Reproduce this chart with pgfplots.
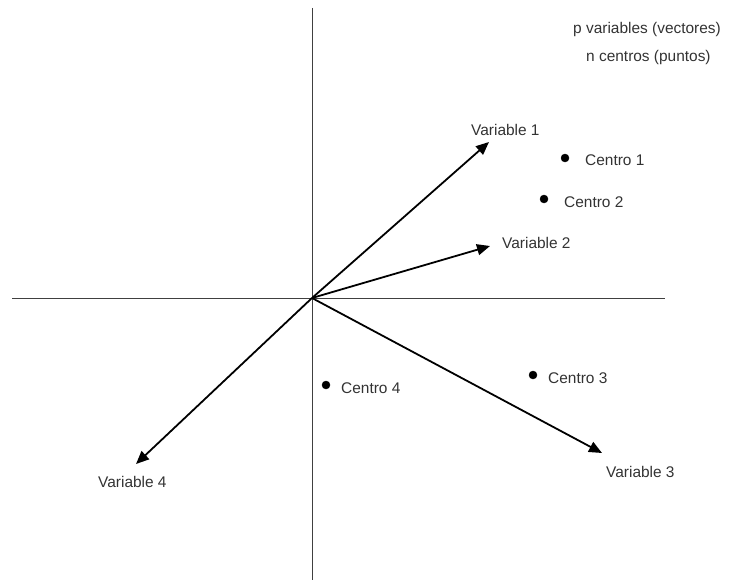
\documentclass[border=0pt]{standalone}
\usepackage{pgfplots}
\pgfplotsset{compat=1.18}
\usepackage{fontspec}
\setmainfont{Liberation Sans}
\usetikzlibrary{arrows.meta}
\tikzset{lab/.style={anchor=base west, inner sep=0pt, text=black!80,
  font=\fontsize{15.5}{18}\selectfont}}

\begin{document}
\begin{tikzpicture}
  \begin{axis}[
    width=733bp, height=585bp, scale only axis,
    xmin=0, xmax=733, ymin=0, ymax=585,
    y dir=reverse,
    hide axis, clip=false,
  ]
    % frame of the page
    \addplot[draw=none] coordinates {(0,0) (733,585)};
    % axes through the origin
    \addplot[black!75, line width=1pt] coordinates {(12,298) (665,298)};
    \addplot[black!75, line width=1pt] coordinates {(312,8) (312,580)};
    % variables (vectores)
    \addplot[black, line width=1.8pt, -{Triangle[length=13bp,width=11bp]}] coordinates {(312,298) (489,142)};
    \addplot[black, line width=1.8pt, -{Triangle[length=13bp,width=11bp]}] coordinates {(312,298) (490,246)};
    \addplot[black, line width=1.8pt, -{Triangle[length=13bp,width=11bp]}] coordinates {(312,298) (602,453)};
    \addplot[black, line width=1.8pt, -{Triangle[length=13bp,width=11bp]}] coordinates {(312,298) (136,464)};
    % centros (puntos)
    \addplot[only marks, mark=*, mark size=4bp, black] coordinates {
      (565,158) (544,199) (533,375) (326,385)
    };
    \node[lab] at (axis cs:471,135) {Variable 1};
    \node[lab] at (axis cs:502,248) {Variable 2};
    \node[lab] at (axis cs:606,477) {Variable 3};
    \node[lab] at (axis cs:98,487) {Variable 4};
    \node[lab] at (axis cs:585,165) {Centro 1};
    \node[lab] at (axis cs:564,207) {Centro 2};
    \node[lab] at (axis cs:548,383) {Centro 3};
    \node[lab] at (axis cs:341,393) {Centro 4};
    \node[lab] at (axis cs:573,34) {p variables (vectores)};
    \node[lab] at (axis cs:586,62) {n centros (puntos)};
  \end{axis}
\end{tikzpicture}
\end{document}
